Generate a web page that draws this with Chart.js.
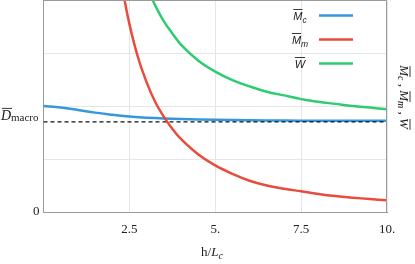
<!DOCTYPE html>
<html>
<head>
<meta charset="utf-8">
<script src="https://cdn.jsdelivr.net/npm/chart.js@4.4.1/dist/chart.umd.min.js"></script>
<style>
  html, body { margin: 0; padding: 0; background: #fff; }
  #wrap { width: 415px; height: 264px; }
</style>
</head>
<body>
<div id="wrap"><canvas id="chart"></canvas></div>
<script>
// curve values (x = h/Lc)
const xMc = [0, 0.5, 1, 1.5, 2, 2.5, 3, 3.5, 4, 5, 6, 7, 8, 9, 10];
const mc = [2.00, 1.97, 1.925, 1.875, 1.835, 1.80, 1.78, 1.765, 1.755, 1.74, 1.73, 1.725, 1.722, 1.72, 1.72];
const xMm = [2.3, 2.5, 2.75, 3, 3.25, 3.5, 3.75, 4, 4.5, 5, 5.5, 6, 6.5, 7, 7.5, 8, 8.5, 9, 9.5, 10];
const mm = [4.2, 3.55, 2.92, 2.45, 2.08, 1.80, 1.57, 1.38, 1.09, 0.88, 0.72, 0.59, 0.50, 0.44, 0.39, 0.34, 0.30, 0.27, 0.245, 0.22];
const xW = [3.1, 3.25, 3.5, 3.75, 4, 4.5, 5, 5.5, 6, 6.5, 7, 7.5, 8, 8.5, 9, 9.5, 10];
const w = [4.12, 3.90, 3.60, 3.37, 3.16, 2.86, 2.65, 2.49, 2.37, 2.27, 2.20, 2.13, 2.08, 2.04, 2.00, 1.97, 1.94];
const dMacro = 1.70;
const xRange = [0, 10];

const xTicks = [0, 2.5, 5, 7.5, 10];
const xTickLabels = ['', '2.5', '5.', '7.5', '10.'];
const yTicks = [0, 1, 2, 3, 4];

const BLUE = '#3498db', RED = '#e74c3c', GREEN = '#2ecc71';
const SERIF = '"Liberation Serif", "DejaVu Serif", serif';
const SANS = '"Liberation Sans", Arial, sans-serif';

const pts = (xs, ys) => xs.map((x, i) => ({ x: x, y: ys[i] }));

// draw text made of pieces (italic, subscripts, overlines)
function richWidth(ctx, parts) {
  let total = 0;
  parts.forEach(p => { ctx.font = p.f; total += ctx.measureText(p.t).width; });
  return total;
}
function drawRich(ctx, parts, x, y, align) {
  const wid = richWidth(ctx, parts);
  let cx = align === 'center' ? x - wid / 2 : align === 'right' ? x - wid : x;
  ctx.textAlign = 'left';
  ctx.textBaseline = 'alphabetic';
  parts.forEach(p => {
    ctx.font = p.f;
    const m = ctx.measureText(p.t);
    ctx.fillText(p.t, cx, y + (p.dy || 0));
    if (p.bar) {
      const top = y - m.actualBoundingBoxAscent - 2;
      ctx.save();
      ctx.strokeStyle = ctx.fillStyle;
      ctx.lineWidth = 0.9;
      ctx.beginPath();
      ctx.moveTo(cx + (p.barShift || 0), top);
      ctx.lineTo(cx + m.width + (p.barShift || 0), top);
      ctx.stroke();
      ctx.restore();
    }
    cx += m.width;
  });
}

const extras = {
  id: 'extras',
  afterDraw(chart) {
    const { ctx, chartArea: a, scales } = chart;
    ctx.save();
    // top and right frame
    ctx.strokeStyle = '#9a9a9a';
    ctx.lineWidth = 1;
    ctx.beginPath();
    ctx.moveTo(a.left, a.top + 0.5);
    ctx.lineTo(a.right - 0.5, a.top + 0.5);
    ctx.lineTo(a.right - 0.5, a.bottom);
    ctx.stroke();

    ctx.fillStyle = '#222';
    // D macro tick label
    const yd = scales.y.getPixelForValue(dMacro);
    drawRich(ctx, [
      { t: 'D', f: 'italic 14px ' + SERIF, bar: true, barShift: 1 },
      { t: 'macro', f: '11px ' + SERIF, dy: 1 }
    ], a.left - 5, yd - 1.5, 'right');

    // x axis title
    drawRich(ctx, [
      { t: 'h/', f: '13px ' + SERIF },
      { t: 'L', f: 'italic 13px ' + SERIF },
      { t: 'c', f: 'italic 10px ' + SERIF, dy: 2.5 }
    ], 212, 256, 'center');

    // right axis title, rotated
    ctx.save();
    ctx.translate(400, 97);
    ctx.rotate(Math.PI / 2);
    drawRich(ctx, [
      { t: 'M', f: 'italic 13px ' + SERIF, bar: true, barShift: 1 },
      { t: 'c', f: 'italic 10px ' + SERIF, dy: 2.5 },
      { t: ' , ', f: '13px ' + SERIF },
      { t: 'M', f: 'italic 13px ' + SERIF, bar: true, barShift: 1 },
      { t: 'm', f: 'italic 10px ' + SERIF, dy: 2.5 },
      { t: ' , ', f: '13px ' + SERIF },
      { t: 'W', f: 'italic 13px ' + SERIF, bar: true, barShift: 1 }
    ], 0, 0, 'center');
    ctx.restore();

    // legend
    const legend = [
      { sub: 'c', main: 'M', color: BLUE, y: 15.5 },
      { sub: 'm', main: 'M', color: RED, y: 39.5 },
      { sub: '', main: 'W', color: GREEN, y: 63.5 }
    ];
    legend.forEach(it => {
      ctx.fillStyle = '#222';
      const parts = [{ t: it.main, f: 'italic 11px ' + SANS, bar: true }];
      if (it.sub) parts.push({ t: it.sub, f: 'italic 8.5px ' + SANS, dy: 3 });
      drawRich(ctx, parts, 300, it.y + 4, 'center');
      ctx.strokeStyle = it.color;
      ctx.lineWidth = 2.5;
      ctx.beginPath();
      ctx.moveTo(319, it.y);
      ctx.lineTo(353, it.y);
      ctx.stroke();
    });
    ctx.restore();
  }
};

new Chart(document.getElementById('chart'), {
  type: 'line',
  data: {
    datasets: [
      { data: pts(xMm, mm), borderColor: RED, borderWidth: 2.5, pointRadius: 0, tension: 0.4 },
      { data: pts(xRange, [dMacro, dMacro]), borderColor: '#111', borderWidth: 1.3, borderDash: [4, 3], pointRadius: 0 },
      { data: pts(xMc, mc), borderColor: BLUE, borderWidth: 2.5, pointRadius: 0, tension: 0.4 },
      { data: pts(xW, w), borderColor: GREEN, borderWidth: 2.5, pointRadius: 0, tension: 0.4 }
    ]
  },
  options: {
    responsive: true,
    maintainAspectRatio: false,
    animation: false,
    layout: { padding: { top: 0, right: 28, left: 0, bottom: 0 } },
    plugins: { legend: { display: false }, tooltip: { enabled: false } },
    scales: {
      x: {
        type: 'linear',
        min: 0,
        max: 10,
        afterBuildTicks: s => { s.ticks = xTicks.map(v => ({ value: v })); },
        afterFit: s => { s.height = 52; s.paddingLeft = 0; s.paddingRight = 0; },
        grid: { color: '#e6e6e6', drawTicks: false },
        border: { color: '#9a9a9a' },
        ticks: {
          padding: 10,
          maxRotation: 0,
          color: '#222',
          font: { family: SERIF, size: 13 },
          callback: (v, i) => xTickLabels[i]
        }
      },
      y: {
        min: 0,
        max: 4,
        afterBuildTicks: s => { s.ticks = yTicks.map(v => ({ value: v })); },
        afterFit: s => { s.width = 43.5; s.paddingTop = 0; s.paddingBottom = 0; },
        grid: { color: '#e6e6e6', drawTicks: false },
        border: { color: '#9a9a9a' },
        ticks: {
          padding: 4,
          color: '#222',
          font: { family: SERIF, size: 13 },
          callback: v => (v === 0 ? '0' : '')
        }
      }
    }
  },
  plugins: [extras]
});
</script>
</body>
</html>
